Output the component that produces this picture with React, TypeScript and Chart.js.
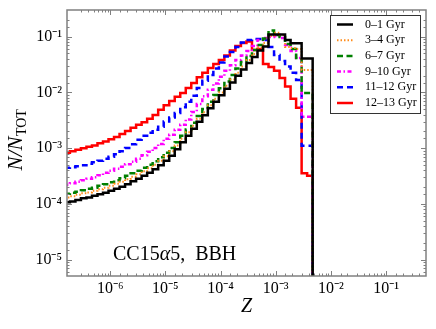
import React, { useEffect, useRef } from 'react';
import { Chart, registerables } from 'chart.js';

Chart.register(...registerables);

// Histogram bin edges, log10(Z)
const logZBinEdges = [
  -6.83, -6.73, -6.63, -6.53, -6.43, -6.33, -6.23, -6.13, -6.03, -5.93,
  -5.83, -5.73, -5.63, -5.53, -5.43, -5.33, -5.23, -5.13, -5.03, -4.93,
  -4.83, -4.73, -4.63, -4.53, -4.43, -4.33, -4.23, -4.13, -4.03, -3.93,
  -3.83, -3.73, -3.63, -3.53, -3.43, -3.33, -3.23, -3.13, -3.03, -2.93,
  -2.83, -2.73, -2.63, -2.53, -2.43, -2.33,
];

const seriesLabels = ['0–1 Gyr', '3–4 Gyr', '6–7 Gyr', '9–10 Gyr', '11–12 Gyr', '12–13 Gyr'];

const age0to1 = [
  1.07e-4, 1.11e-4, 1.18e-4, 1.26e-4, 1.31e-4, 1.40e-4, 1.49e-4, 1.58e-4, 1.72e-4, 1.87e-4,
  2.03e-4, 2.25e-4, 2.54e-4, 2.82e-4, 3.19e-4, 3.61e-4, 4.17e-4, 4.92e-4, 5.92e-4, 7.28e-4,
  9.52e-4, 1.27e-3, 1.66e-3, 2.22e-3, 2.96e-3, 3.87e-3, 5.17e-3, 6.76e-3, 8.84e-3, 1.16e-2,
  1.51e-2, 1.98e-2, 2.58e-2, 3.38e-2, 4.33e-2, 5.66e-2, 6.67e-2, 0.109, 0.109, 0.109,
  8.73e-2, 7.61e-2, 7.61e-2, 4.07e-2, 4.07e-2,
];
const age3to4 = [
  1.31e-4, 1.37e-4, 1.46e-4, 1.55e-4, 1.61e-4, 1.72e-4, 1.83e-4, 1.94e-4, 2.11e-4, 2.29e-4,
  2.49e-4, 2.76e-4, 3.06e-4, 3.39e-4, 3.84e-4, 4.35e-4, 5.02e-4, 5.92e-4, 7.13e-4, 8.77e-4,
  1.12e-3, 1.47e-3, 1.92e-3, 2.51e-3, 3.35e-3, 4.38e-3, 5.85e-3, 7.65e-3, 1.00e-2, 1.31e-2,
  1.71e-2, 2.24e-2, 2.92e-2, 3.82e-2, 4.90e-2, 6.41e-2, 7.71e-2, 0.103, 0.117, 0.107,
  6.54e-2, 6.27e-2, 6.02e-2, 2.53e-2, 2.53e-2,
];
const age6to7 = [
  1.52e-4, 1.58e-4, 1.65e-4, 1.75e-4, 1.87e-4, 1.94e-4, 2.11e-4, 2.25e-4, 2.44e-4, 2.65e-4,
  2.88e-4, 3.19e-4, 3.54e-4, 3.92e-4, 4.44e-4, 5.02e-4, 5.80e-4, 6.84e-4, 8.24e-4, 1.01e-3,
  1.27e-3, 1.66e-3, 2.17e-3, 2.84e-3, 3.79e-3, 5.06e-3, 6.76e-3, 9.02e-3, 1.18e-2, 1.57e-2,
  2.06e-2, 2.69e-2, 3.52e-2, 4.51e-2, 5.78e-2, 7.10e-2, 9.28e-2, 0.129, 0.107, 9.88e-2,
  7.40e-2, 6.02e-2, 4.15e-2, 9.79e-3, 9.79e-3,
];
const age9to10 = [
  2.20e-4, 2.34e-4, 2.49e-4, 2.65e-4, 2.82e-4, 3.00e-4, 3.26e-4, 3.61e-4, 3.92e-4, 4.26e-4,
  4.62e-4, 5.13e-4, 5.68e-4, 6.43e-4, 7.43e-4, 8.59e-4, 1.01e-3, 1.19e-3, 1.47e-3, 1.73e-3,
  2.13e-3, 2.62e-3, 3.28e-3, 4.47e-3, 6.22e-3, 8.48e-3, 1.11e-2, 1.45e-2, 1.90e-2, 2.43e-2,
  3.05e-2, 3.82e-2, 4.60e-2, 5.54e-2, 6.81e-2, 8.73e-2, 9.48e-2, 9.88e-2, 0.103, 9.48e-2,
  7.10e-2, 5.54e-2, 4.15e-2, 3.64e-3, 3.64e-3,
];
const age11to12 = [
  4.44e-4, 4.53e-4, 4.72e-4, 4.92e-4, 5.23e-4, 5.57e-4, 5.92e-4, 6.43e-4, 6.98e-4, 7.74e-4,
  8.77e-4, 1.01e-3, 1.17e-3, 1.41e-3, 1.66e-3, 1.88e-3, 2.13e-3, 2.41e-3, 3.02e-3, 3.56e-3,
  4.29e-3, 5.39e-3, 6.76e-3, 8.66e-3, 1.20e-2, 1.61e-2, 2.06e-2, 2.69e-2, 3.45e-2, 4.42e-2,
  5.32e-2, 6.54e-2, 7.87e-2, 8.73e-2, 9.10e-2, 9.10e-2, 8.73e-2, 6.54e-2, 4.70e-2, 3.67e-2,
  2.92e-2, 2.24e-2, 1.67e-2, 1.10e-3, 1.10e-3,
];
const age12to13 = [
  8.24e-4, 8.77e-4, 9.32e-4, 9.92e-4, 1.06e-3, 1.12e-3, 1.22e-3, 1.32e-3, 1.44e-3, 1.59e-3,
  1.80e-3, 2.04e-3, 2.31e-3, 2.62e-3, 2.90e-3, 3.35e-3, 3.95e-3, 4.86e-3, 5.85e-3, 7.04e-3,
  8.31e-3, 9.79e-3, 1.20e-2, 1.48e-2, 1.86e-2, 2.24e-2, 2.75e-2, 3.24e-2, 3.82e-2, 4.60e-2,
  5.66e-2, 6.81e-2, 7.71e-2, 8.20e-2, 5.78e-2, 6.02e-2, 3.24e-2, 2.86e-2, 2.43e-2, 1.82e-2,
  1.28e-2, 7.65e-3, 5.28e-3, 3.56e-4, 3.19e-4,
];

const seriesValues = [age0to1, age3to4, age6to7, age9to10, age11to12, age12to13];

const xMin = 1.65e-7;
const xMax = 0.53;
const yMin = 5.1e-6;
const yMax = 0.30;
const histogramFloor = 1e-9;

const SERIF = "'Liberation Serif', 'Times New Roman', serif";

const seriesStyles = [
  { color: '#000000', width: 2.5, dash: [] as number[] },
  { color: '#ff8c1a', width: 2, dash: [1.5, 2] },
  { color: '#008000', width: 2.5, dash: [6, 3.5] },
  { color: '#ff00ff', width: 2.5, dash: [4, 2.5, 1.5, 2.5] },
  { color: '#0000ff', width: 2.5, dash: [6, 4] },
  { color: '#ff0000', width: 2.5, dash: [] as number[] },
];

const SUP: Record<string, string> = {
  '-': '⁻', '0': '⁰', '1': '¹', '2': '²', '3': '³', '4': '⁴',
  '5': '⁵', '6': '⁶', '7': '⁷', '8': '⁸', '9': '⁹',
};

function decadeLabel(v: number): string {
  const e = Math.log10(v);
  const r = Math.round(e);
  if (Math.abs(e - r) > 1e-6) return '';
  return '10' + String(r).split('').map((c) => SUP[c] || c).join('');
}

function isDecade(v: number): boolean {
  const e = Math.log10(v);
  return Math.abs(e - Math.round(e)) < 1e-6;
}

const overlayPlugin = {
  id: 'figureOverlay',
  afterDraw(chart: any) {
    const { ctx, chartArea: a } = chart;
    const xs = chart.scales.x;
    const ys = chart.scales.y;
    ctx.save();
    ctx.setLineDash([]);

    // inward ticks on all four sides
    ctx.strokeStyle = '#808080';
    ctx.lineWidth = 1;
    ctx.beginPath();
    for (const t of xs.ticks) {
      const px = Math.round(xs.getPixelForValue(t.value)) + 0.5;
      if (px <= a.left + 1 || px >= a.right - 1) continue;
      const len = isDecade(t.value) ? 5 : 2.5;
      ctx.moveTo(px, a.bottom); ctx.lineTo(px, a.bottom - len);
      ctx.moveTo(px, a.top); ctx.lineTo(px, a.top + len);
    }
    for (const t of ys.ticks) {
      const py = Math.round(ys.getPixelForValue(t.value)) + 0.5;
      if (py <= a.top + 1 || py >= a.bottom - 1) continue;
      const len = isDecade(t.value) ? 5 : 2.5;
      ctx.moveTo(a.left, py); ctx.lineTo(a.left + len, py);
      ctx.moveTo(a.right, py); ctx.lineTo(a.right - len, py);
    }
    ctx.stroke();

    // frame
    ctx.lineWidth = 1.5;
    ctx.strokeRect(a.left, a.top, a.right - a.left, a.bottom - a.top);

    // y-axis title N/N_TOT
    ctx.save();
    ctx.fillStyle = '#000';
    ctx.translate(22, 140);
    ctx.rotate(-Math.PI / 2);
    ctx.textBaseline = 'alphabetic';
    ctx.textAlign = 'left';
    ctx.font = `italic 21px ${SERIF}`;
    const w1 = ctx.measureText('N/N').width;
    ctx.font = `14px ${SERIF}`;
    const w2 = ctx.measureText('TOT').width;
    const start = -(w1 + w2) / 2;
    ctx.font = `italic 21px ${SERIF}`;
    ctx.fillText('N/N', start, 0);
    ctx.font = `14px ${SERIF}`;
    ctx.fillText('TOT', start + w1 + 0.5, 4);
    ctx.restore();

    // annotation
    ctx.fillStyle = '#000';
    ctx.textBaseline = 'alphabetic';
    ctx.textAlign = 'left';
    let tx = a.left + 46;
    const ty = a.bottom - 16;
    ctx.font = `20px ${SERIF}`;
    ctx.fillText('CC15', tx, ty);
    tx += ctx.measureText('CC15').width;
    ctx.font = `italic 20px ${SERIF}`;
    ctx.fillText('α', tx, ty);
    tx += ctx.measureText('α').width;
    ctx.font = `20px ${SERIF}`;
    ctx.fillText('5,  BBH', tx, ty);

    // legend
    const bw = 90;
    const bh = 98;
    const bx = a.right - 96;
    const by = a.top + 5;
    ctx.fillStyle = '#ffffff';
    ctx.fillRect(bx, by, bw, bh);
    ctx.strokeStyle = '#333333';
    ctx.lineWidth = 1;
    ctx.strokeRect(bx + 0.5, by + 0.5, bw, bh);
    chart.data.datasets.forEach((ds: any, i: number) => {
      const cy = by + 9.5 + i * 15.7;
      ctx.strokeStyle = ds.borderColor;
      ctx.lineWidth = ds.borderWidth;
      ctx.setLineDash(ds.borderDash || []);
      ctx.beginPath();
      ctx.moveTo(bx + 7, cy);
      ctx.lineTo(bx + 23, cy);
      ctx.stroke();
      ctx.setLineDash([]);
      ctx.fillStyle = '#000';
      ctx.font = `12px ${SERIF}`;
      ctx.textBaseline = 'middle';
      ctx.fillText(ds.label, bx + 35, cy);
    });

    ctx.restore();
  },
};

export default function App() {
  const canvasRef = useRef<HTMLCanvasElement | null>(null);

  useEffect(() => {
    if (!canvasRef.current) return;
    const datasets = seriesValues.map((vals, i) => ({
      label: seriesLabels[i],
      data: [
        ...vals.map((v, k) => ({ x: Math.pow(10, logZBinEdges[k]), y: v })),
        { x: Math.pow(10, logZBinEdges[vals.length]), y: histogramFloor },
      ],
      borderColor: seriesStyles[i].color,
      borderWidth: seriesStyles[i].width,
      borderDash: seriesStyles[i].dash,
      borderCapStyle: 'butt' as const,
      borderJoinStyle: 'miter' as const,
      stepped: true,
      pointRadius: 0,
      pointHoverRadius: 0,
      fill: false,
      tension: 0,
    }));

    const tickFont = { family: SERIF, size: 16 };

    const chart = new Chart(canvasRef.current, {
      type: 'line',
      data: { datasets },
      options: {
        animation: false,
        responsive: false,
        maintainAspectRatio: false,
        events: [],
        layout: { padding: { left: 0, right: 10, top: 10, bottom: 0 } },
        plugins: { legend: { display: false }, tooltip: { enabled: false } },
        scales: {
          x: {
            type: 'logarithmic',
            min: xMin,
            max: xMax,
            grid: { display: false, drawTicks: false },
            border: { display: false },
            ticks: {
              autoSkip: false,
              maxRotation: 0,
              padding: 3,
              color: '#000',
              font: tickFont,
              callback: (v: any) => decadeLabel(Number(v)),
            },
            title: {
              display: true,
              text: 'Z',
              color: '#000',
              font: { family: SERIF, size: 20, style: 'italic' },
              padding: { top: 0, bottom: 10 },
            },
            afterFit: (s: any) => {
              s.height = 53;
              s.paddingLeft = 0; s.paddingRight = 0; s.paddingTop = 0; s.paddingBottom = 0;
            },
          },
          y: {
            type: 'logarithmic',
            min: yMin,
            max: yMax,
            grid: { display: false, drawTicks: false },
            border: { display: false },
            ticks: {
              autoSkip: false,
              padding: 5,
              color: '#000',
              font: tickFont,
              callback: (v: any) => decadeLabel(Number(v)),
            },
            afterFit: (s: any) => {
              s.width = 67;
              s.paddingLeft = 0; s.paddingRight = 0; s.paddingTop = 0; s.paddingBottom = 0;
            },
          },
        },
      } as any,
      plugins: [overlayPlugin],
    });

    return () => chart.destroy();
  }, []);

  return (
    <div style={{ position: 'fixed', left: 0, top: 0, width: 436, height: 329, background: '#fff' }}>
      <canvas ref={canvasRef} width={436} height={329} style={{ display: 'block', width: 436, height: 329 }} />
    </div>
  );
}
